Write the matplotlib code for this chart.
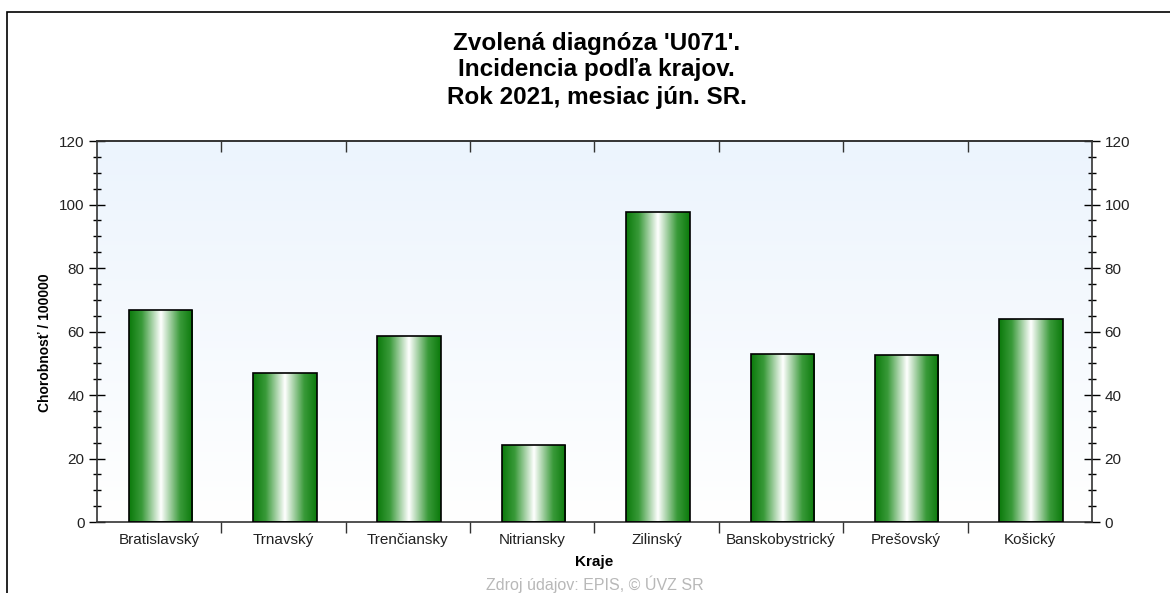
import numpy as np
import matplotlib.pyplot as plt
from matplotlib.patches import Rectangle
from matplotlib.colors import LinearSegmentedColormap
from matplotlib.ticker import MultipleLocator

kraje = ["Bratislavský", "Trnavský", "Trenčiansky", "Nitriansky",
         "Zilinský", "Banskobystrický", "Prešovský", "Košický"]
hodnoty = [66.8, 47.0, 58.7, 24.4, 97.7, 53.0, 52.7, 63.8]

plt.rcParams['font.family'] = ['Liberation Sans', 'DejaVu Sans']

fig = plt.figure(figsize=(11.7, 5.93), dpi=100)
ax = fig.add_axes([0.0829, 0.1197, 0.8504, 0.6425])

# ramik okolo grafu
fig.patches.append(Rectangle((7 / 1170, -0.1), 1.2, 1 - 12 / 593 + 0.1,
                             transform=fig.transFigure, fill=False,
                             edgecolor='black', linewidth=1.2, zorder=0))

n = len(kraje)

# pozadie - prechod z bledomodrej do bielej
bg = LinearSegmentedColormap.from_list("bg", ["#ffffff", "#ecf4fd"])
ax.imshow(np.linspace(0, 1, 256).reshape(-1, 1), cmap=bg, aspect='auto',
          extent=(0, n, 0, 120), origin='lower', zorder=0)

# stlpce s gradientom
zelena = LinearSegmentedColormap.from_list(
    "zel", [(0, "#0b7a0b"), (0.2, "#3a9a3a"), (0.5, "#ffffff"),
            (0.8, "#3a9a3a"), (1, "#0b7a0b")])
grad = np.linspace(0, 1, 256).reshape(1, -1)
bars = ax.bar(np.arange(n) + 0.51, hodnoty, width=0.51, facecolor='none',
              edgecolor='black', linewidth=1.2, zorder=3)
for b in bars:
    x0, y0 = b.get_x(), b.get_y()
    im = ax.imshow(grad, cmap=zelena, aspect='auto',
                   extent=(x0, x0 + b.get_width(), y0, y0 + b.get_height()),
                   zorder=2)
    im.set_clip_path(b)

ax.set_xlim(0, n)
ax.set_ylim(0, 120)

# osi
ax.set_xticks(np.arange(1, n))
ax.set_xticklabels([])
ax.set_xticks(np.arange(n) + 0.5, minor=True)
ax.set_xticklabels(kraje, minor=True, fontsize=11, color='#222222')
ax.tick_params(axis='x', which='major', direction='out', length=8,
               width=1, color='#333333')
ax.tick_params(axis='x', which='minor', length=0, pad=8)

top = ax.secondary_xaxis('top')
top.set_xticks(np.arange(1, n))
top.set_xticklabels([])
top.tick_params(direction='in', length=8, width=1, color='#333333')
top.spines['top'].set_linewidth(1.2)
top.spines['top'].set_color('#333333')

ax.yaxis.set_major_locator(MultipleLocator(20))
ax.yaxis.set_minor_locator(MultipleLocator(5))
ax.tick_params(axis='y', which='major', direction='inout', length=12,
               width=1, labelsize=11, labelcolor='#222222',
               left=True, right=True, labelleft=True, labelright=True, pad=3)
ax.tick_params(axis='y', which='minor', direction='inout', length=6,
               width=1, left=True, right=True)

for s in ax.spines.values():
    s.set_linewidth(1.2)
    s.set_color('#333333')

ax.set_ylabel("Chorobnosť / 100000", fontsize=10, fontweight='bold')
ax.yaxis.set_label_coords(-0.045, 0.47)
ax.set_xlabel("Kraje", fontsize=11, fontweight='bold', labelpad=6)

fig.text(0.51, 0.927, "Zvolená diagnóza 'U071'.", ha='center', va='center',
         fontsize=17.5, fontweight='bold')
fig.text(0.51, 0.882, "Incidencia podľa krajov.", ha='center', va='center',
         fontsize=17.5, fontweight='bold')
fig.text(0.51, 0.836, "Rok 2021, mesiac jún. SR.", ha='center', va='center',
         fontsize=17.5, fontweight='bold')
fig.text(0.508, 0.0, "Zdroj údajov: EPIS, © ÚVZ SR", ha='center', va='bottom',
         fontsize=11.5, color='#b8b8b8')

fig.savefig("out.png", dpi=100)
